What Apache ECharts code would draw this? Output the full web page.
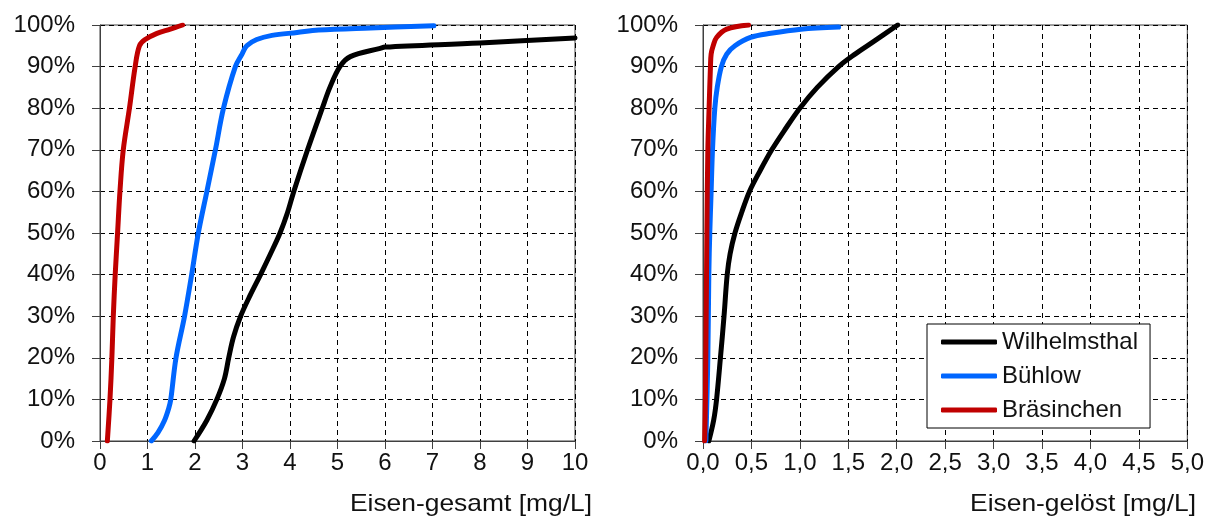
<!DOCTYPE html>
<html>
<head>
<meta charset="utf-8">
<script src="https://cdn.jsdelivr.net/npm/echarts@6/dist/echarts.min.js"></script>
<style>
  html, body { margin: 0; padding: 0; background: #fff; }
  #chart { width: 1207px; height: 520px; }
</style>
</head>
<body>
<div id="chart"></div>
<script>
// Summenhäufigkeit [%] gegen Konzentration [mg/L]
var pctTicks = [0, 10, 20, 30, 40, 50, 60, 70, 80, 90, 100];

// Eisen-gesamt
var wilGesamtPct = [0, 5, 10, 15, 20, 25, 30, 35, 40, 45, 50, 55, 60, 70, 80, 85, 90, 92.4, 94.4, 94.7, 95.7, 96.9];
var wilGesamtX   = [1.98, 2.25, 2.46, 2.62, 2.71, 2.81, 2.96, 3.16, 3.38, 3.59, 3.79, 3.95, 4.08, 4.37, 4.68, 4.84, 5.05, 5.27, 5.9, 6.0, 8.0, 10.0];
var bueGesamtPct = [0, 2, 5, 8, 10, 20, 30, 40, 50, 60, 70, 80, 90, 93, 95, 96.5, 97.5, 98.2, 98.8, 99.3, 99.8];
var bueGesamtX   = [1.08, 1.22, 1.36, 1.45, 1.49, 1.60, 1.78, 1.93, 2.07, 2.25, 2.43, 2.60, 2.85, 2.99, 3.09, 3.30, 3.62, 4.15, 4.6, 5.7, 7.03];
var braGesamtPct = [0, 10, 20, 30, 40, 50, 60, 70, 80, 90, 95, 96.5, 98, 99, 100];
var braGesamtX   = [0.155, 0.21, 0.25, 0.28, 0.32, 0.37, 0.42, 0.49, 0.62, 0.74, 0.83, 0.95, 1.20, 1.48, 1.74];

// Eisen-gelöst
var wilGeloestPct = [0, 5, 10, 20, 30, 40, 45, 50, 55, 60, 65, 70, 75, 80, 85, 90, 93, 96, 100];
var wilGeloestX   = [0.06, 0.11, 0.14, 0.18, 0.217, 0.25, 0.28, 0.33, 0.40, 0.48, 0.59, 0.71, 0.85, 1.0, 1.18, 1.40, 1.57, 1.76, 2.01];
var bueGeloestPct = [0, 20, 40, 50, 60, 70, 80, 85, 90, 93, 95, 97, 98, 99, 99.5];
var bueGeloestX   = [0.03, 0.05, 0.06, 0.07, 0.084, 0.098, 0.122, 0.147, 0.19, 0.245, 0.33, 0.49, 0.70, 1.01, 1.40];
var braGeloestPct = [0, 10, 50, 70, 80, 90, 93, 95, 97, 99, 100];
var braGeloestX   = [0.017, 0.025, 0.04, 0.05, 0.063, 0.077, 0.084, 0.105, 0.14, 0.245, 0.47];

var names = ['Wilhelmsthal', 'Bühlow', 'Bräsinchen'];
var colors = ['#000000', '#0066ff', '#c00000'];

function pairs(xs, ys) {
  return xs.map(function (x, i) { return [x, ys[i]]; });
}

var font = 'Liberation Sans, Arial, sans-serif';
var fs = 24;

function xAxisOf(idx, max, step, fmt) {
  return {
    type: 'value', gridIndex: idx, min: 0, max: max, interval: step,
    axisLine: { show: true, onZero: false, lineStyle: { color: '#404040', width: 1 } },
    axisTick: { show: true, inside: false, length: 8, lineStyle: { color: '#404040' } },
    axisLabel: { margin: 10, color: '#111', fontSize: fs, fontFamily: font, formatter: fmt },
    splitLine: { show: true, lineStyle: { color: '#000', type: [5, 4], width: 1 } }
  };
}
function yAxisOf(idx) {
  return {
    type: 'value', gridIndex: idx, min: 0, max: 100, interval: 10,
    axisLine: { show: true, lineStyle: { color: '#404040', width: 1 } },
    axisTick: { show: true, inside: false, length: 8, lineStyle: { color: '#404040' } },
    axisLabel: { margin: 25, color: '#111', fontSize: fs, fontFamily: font, formatter: '{value}%' },
    splitLine: { show: true, lineStyle: { color: '#000', type: [5, 4], width: 1 } }
  };
}
function line(name, color, xi, data) {
  return {
    name: name, type: 'line', xAxisIndex: xi, yAxisIndex: xi,
    data: data, showSymbol: false, symbol: 'none', smooth: 0.35,
    lineStyle: { color: color, width: 5, cap: 'round', join: 'round' },
    itemStyle: { color: color }
  };
}

var chart = echarts.init(document.getElementById('chart'));
chart.setOption({
  animation: false,
  backgroundColor: '#fff',
  grid: [
    { left: 100, top: 25, width: 475, height: 416, show: true, borderColor: '#404040', borderWidth: 1 },
    { left: 703, top: 25, width: 486, height: 416, show: true, borderColor: '#404040', borderWidth: 1 }
  ],
  xAxis: [
    xAxisOf(0, 10, 1, function (v) { return String(v); }),
    xAxisOf(1, 5, 0.5, function (v) { return v.toFixed(1).replace('.', ','); })
  ],
  yAxis: [yAxisOf(0), yAxisOf(1)],
  legend: {
    data: names, orient: 'vertical', left: 927, top: 324,
    backgroundColor: '#fff', borderColor: '#000', borderWidth: 1,
    padding: [6, 12, 6, 14], itemGap: 10, itemWidth: 56, itemHeight: 5,
    icon: 'roundRect',
    textStyle: { fontSize: fs, fontFamily: font, color: '#111' }
  },
  series: [
    line(names[0], colors[0], 0, pairs(wilGesamtX, wilGesamtPct)),
    line(names[1], colors[1], 0, pairs(bueGesamtX, bueGesamtPct)),
    line(names[2], colors[2], 0, pairs(braGesamtX, braGesamtPct)),
    line(names[0], colors[0], 1, pairs(wilGeloestX, wilGeloestPct)),
    line(names[1], colors[1], 1, pairs(bueGeloestX, bueGeloestPct)),
    line(names[2], colors[2], 1, pairs(braGeloestX, braGeloestPct))
  ],
  graphic: [
    { type: 'text', x: 592, y: 492, scaleX: 1.1,
      style: { text: 'Eisen-gesamt [mg/L]', font: '24px ' + font, fill: '#111', textAlign: 'right' } },
    { type: 'text', x: 1196, y: 492, scaleX: 1.1,
      style: { text: 'Eisen-gelöst [mg/L]', font: '24px ' + font, fill: '#111', textAlign: 'right' } }
  ]
});
</script>
</body>
</html>
